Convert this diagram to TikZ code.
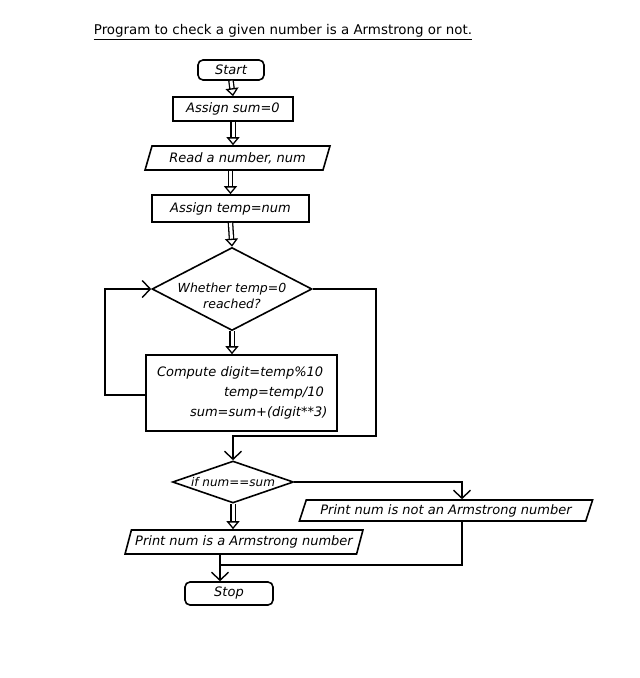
\documentclass[tikz,border=0pt]{standalone}
\usepackage{fontspec}
\setmainfont{DejaVu Sans}
\usetikzlibrary{arrows.meta,shapes.geometric,calc}

\begin{document}
\begin{tikzpicture}[x=1pt,y=-1pt,
  every node/.style={font=\fontsize{13}{20}\selectfont\itshape, inner sep=0pt},
  outline/.style={draw, line width=1.6pt},
  boxnode/.style={outline, rectangle},
  termnode/.style={outline, rectangle, rounded corners=5pt},
  ionode/.style={outline, trapezium, trapezium left angle=64, trapezium right angle=116,
                 trapezium stretches=true},
  decnode/.style={outline, diamond},
  flow/.style={line width=1.6pt, -{Straight Barb[length=8pt,width=17pt,line width=1.4pt]}},
  plain/.style={line width=1.6pt},
  hollow/.style={double, double distance=3pt, line width=1.3pt,
                 -{Triangle[open, length=8pt, width=13pt, line width=1.3pt]}}
]
\useasboundingbox (0,0) rectangle (640,678);

% title
\node[font=\fontsize{13.4}{16}\selectfont] (title) at (283,31) {Program to check a given number is a Armstrong or not.};
\draw[line width=0.6pt] ([yshift=-2pt]title.south west) -- ([yshift=-2pt]title.south east);

% nodes
\node[termnode, minimum width=66pt, minimum height=20pt] (start) at (231,70) {Start};
\node[boxnode, minimum width=120pt, minimum height=24pt] (sum) at (233,109) {Assign sum=0};
\node[ionode, minimum width=185pt, minimum height=24pt] (read) at (237.5,158) {Read a number, num};
\node[boxnode, minimum width=157pt, minimum height=27pt] (temp) at (230.5,208.5) {Assign temp=num};
% first line of the question sits on the widest part of the diamond
\node[decnode, minimum width=160pt, minimum height=83pt, font=\fontsize{12.5}{16}\selectfont\itshape] (d1) at (232,289)
  {\makebox[0pt]{\raisebox{-11pt}[0pt][0pt]{\begin{tabular}{@{}c@{}}Whether temp=0\\reached?\end{tabular}}}};
\node[boxnode, minimum width=191pt, minimum height=76pt, text width=169pt, inner xsep=11pt,
      align=left] (comp) at (241.5,393)
  {Compute digit=temp\%10\\
   \hspace*{67pt}temp=temp/10\\
   \hspace*{33pt}sum=sum+(digit**3)};
\node[decnode, minimum width=121pt, minimum height=42pt, font=\fontsize{12}{14}\selectfont\itshape] (ifd) at (233,482)
  {\makebox[0pt]{if num==sum}};
\node[ionode, minimum width=294pt, minimum height=21pt] (notp) at (446,510.5) {Print num is not an Armstrong number};
\node[ionode, minimum width=238pt, minimum height=24pt] (yes) at (244,542) {Print num is a Armstrong number};
\node[termnode, minimum width=88pt, minimum height=23pt] (stop) at (229,593.5) {Stop};

% routing points
\coordinate (loopL) at (105,395);
\coordinate (loopR) at (376,436);
\coordinate (notX) at (462,565);
\coordinate (join) at (220,565);

% straight-down hollow arrows
\draw[hollow] (start.south) -- (sum.north);
\draw[hollow] (sum.south) -- (sum.south |- read.north);
\draw[hollow] (temp.north |- read.south) -- (temp.north);
\draw[hollow] (temp.south) -- (d1.north);
\draw[hollow] (d1.south) -- (d1.south |- comp.north);
\draw[hollow] (ifd.south) -- (ifd.south |- yes.north);

% loop back to the test
\draw[flow] (comp.west |- loopL) -- (loopL) |- (d1.west);
% loop exit
\draw[flow] (d1.east) -| (loopR) -| (ifd.north);
% not an Armstrong number
\draw[flow] (ifd.east) -| (notp.north -| notX);
% merge into stop
\draw[plain] (notp.south -| notX) -- (notX) -- (join);
\draw[flow] (yes.south -| join) -- (stop.north -| join);
\end{tikzpicture}
\end{document}
